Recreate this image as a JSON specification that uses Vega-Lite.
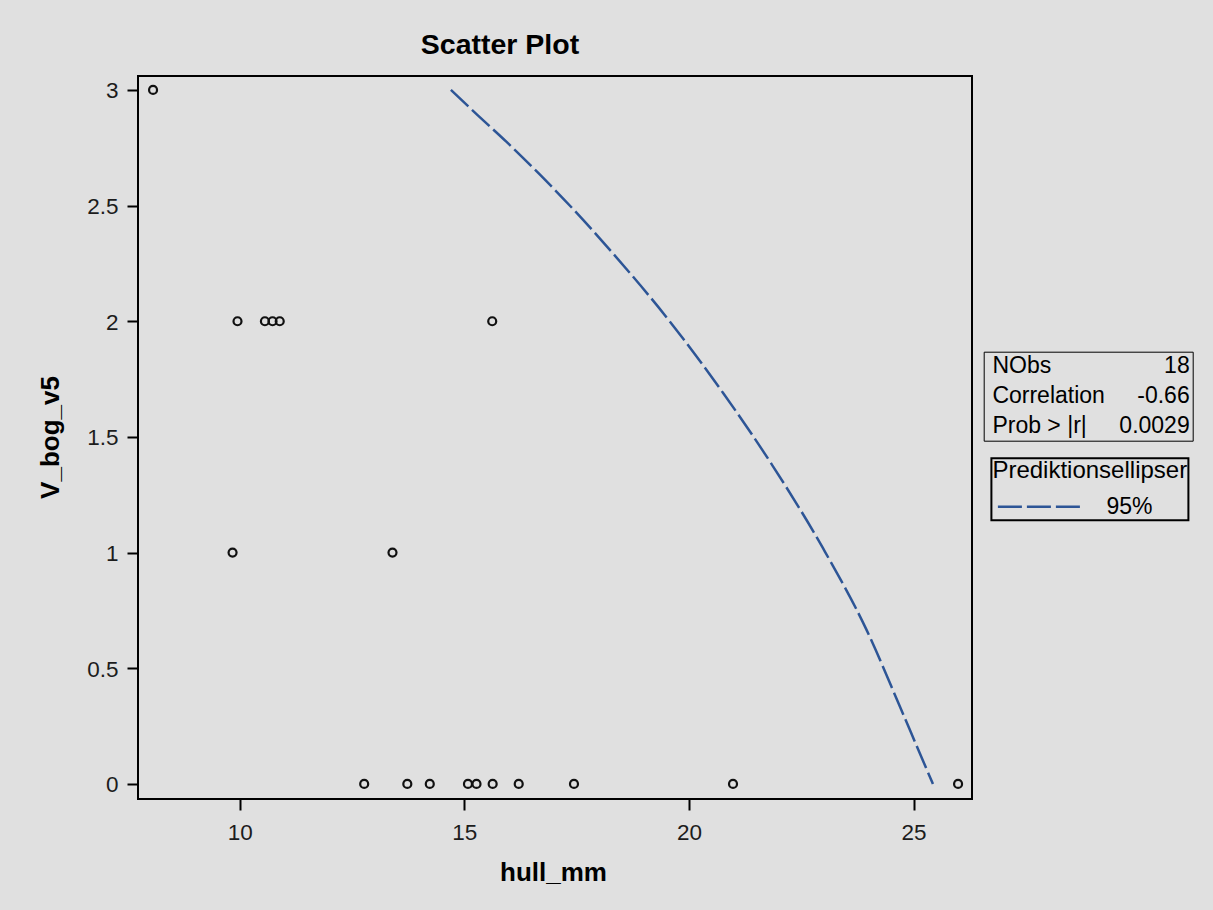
{
  "$schema": "https://vega.github.io/schema/vega-lite/v6.json",
  "width": 834,
  "height": 723,
  "autosize": {"type": "none"},
  "padding": {"left": 138, "top": 76, "right": 241, "bottom": 111},
  "background": "#e0e0e0",
  "title": {
    "text": "Scatter Plot",
    "font": "Liberation Sans",
    "fontSize": 28.5,
    "fontWeight": "bold",
    "color": "black",
    "anchor": "middle",
    "dx": -55,
    "dy": 27,
    "baseline": "alphabetic",
    "offset": 21
  },
  "config": {
    "font": "Liberation Sans",
    "view": {"fill": "white", "stroke": "black", "strokeWidth": 2},
    "axis": {
      "grid": false,
      "domain": false,
      "tickColor": "black",
      "tickWidth": 2,
      "tickSize": 11,
      "labelFont": "Liberation Sans",
      "labelFontSize": 22.5,
      "labelColor": "#1c1c1c",
      "titleFont": "Liberation Sans",
      "titleFontSize": 26,
      "titleFontWeight": "bold",
      "titleColor": "black"
    }
  },
  "datasets": {
    "points": [
      {"hull_mm": 8.07, "V_bog_v5": 3},
      {"hull_mm": 9.95, "V_bog_v5": 2},
      {"hull_mm": 10.56, "V_bog_v5": 2},
      {"hull_mm": 10.73, "V_bog_v5": 2},
      {"hull_mm": 10.89, "V_bog_v5": 2},
      {"hull_mm": 15.62, "V_bog_v5": 2},
      {"hull_mm": 9.84, "V_bog_v5": 1},
      {"hull_mm": 13.4, "V_bog_v5": 1},
      {"hull_mm": 12.77, "V_bog_v5": 0},
      {"hull_mm": 13.73, "V_bog_v5": 0},
      {"hull_mm": 14.23, "V_bog_v5": 0},
      {"hull_mm": 15.08, "V_bog_v5": 0},
      {"hull_mm": 15.27, "V_bog_v5": 0},
      {"hull_mm": 15.63, "V_bog_v5": 0},
      {"hull_mm": 16.21, "V_bog_v5": 0},
      {"hull_mm": 17.44, "V_bog_v5": 0},
      {"hull_mm": 20.98, "V_bog_v5": 0},
      {"hull_mm": 25.99, "V_bog_v5": 0}
    ],
    "ellipse": [
      {"hull_mm": 14.7, "V_bog_v5": 3.0, "level": "95%"},
      {"hull_mm": 15.3, "V_bog_v5": 2.89, "level": "95%"},
      {"hull_mm": 15.94, "V_bog_v5": 2.775, "level": "95%"},
      {"hull_mm": 16.7, "V_bog_v5": 2.63, "level": "95%"},
      {"hull_mm": 17.42, "V_bog_v5": 2.485, "level": "95%"},
      {"hull_mm": 18.3, "V_bog_v5": 2.295, "level": "95%"},
      {"hull_mm": 19.57, "V_bog_v5": 2.0, "level": "95%"},
      {"hull_mm": 20.76, "V_bog_v5": 1.69, "level": "95%"},
      {"hull_mm": 21.87, "V_bog_v5": 1.373, "level": "95%"},
      {"hull_mm": 22.98, "V_bog_v5": 1.02, "level": "95%"},
      {"hull_mm": 23.95, "V_bog_v5": 0.667, "level": "95%"},
      {"hull_mm": 24.69, "V_bog_v5": 0.337, "level": "95%"},
      {"hull_mm": 25.1, "V_bog_v5": 0.15, "level": "95%"},
      {"hull_mm": 25.43, "V_bog_v5": 0.0, "level": "95%"}
    ],
    "stats": [
      {"stat": "NObs", "value": "18"},
      {"stat": "Correlation", "value": "-0.66"},
      {"stat": "Prob > |r|", "value": "0.0029"}
    ]
  },
  "layer": [
    {
      "data": {"name": "points"},
      "mark": {"type": "point", "shape": "circle", "filled": false, "size": 64, "strokeWidth": 2.2, "color": "#111111", "opacity": 1},
      "encoding": {
        "x": {
          "field": "hull_mm",
          "type": "quantitative",
          "scale": {"domain": [7.735, 26.3], "nice": false, "zero": false},
          "axis": {
            "title": "hull_mm",
            "values": [10, 15, 20, 25],
            "labelPadding": 11,
            "labelFlush": false,
            "titleX": 415,
            "titleY": 81,
            "titleBaseline": "alphabetic"
          }
        },
        "y": {
          "field": "V_bog_v5",
          "type": "quantitative",
          "scale": {"domain": [-0.065, 3.06], "nice": false, "zero": false},
          "axis": {
            "title": "V_bog_v5",
            "values": [0, 0.5, 1, 1.5, 2, 2.5, 3],
            "format": "~g",
            "labelPadding": 9,
            "labelBaseline": "alphabetic",
            "labelOffset": 8,
            "labelFlush": false,
            "titleX": -80,
            "titleY": 361,
            "titleAlign": "center",
            "titleBaseline": "alphabetic"
          }
        }
      }
    },
    {
      "data": {"name": "ellipse"},
      "mark": {"type": "line", "color": "#2d5596", "strokeWidth": 2.5, "interpolate": "monotone"},
      "encoding": {
        "x": {"field": "hull_mm", "type": "quantitative"},
        "y": {"field": "V_bog_v5", "type": "quantitative"},
        "strokeDash": {
          "field": "level",
          "type": "nominal",
          "scale": {"domain": ["95%"], "range": [[24, 5]]},
          "legend": {
            "orient": "none",
            "legendX": 853.4,
            "legendY": 382.3,
            "title": "Prediktionsellipser",
            "titleFont": "Liberation Sans",
            "titleFontSize": 24,
            "titleFontWeight": "normal",
            "titleColor": "black",
            "titleLimit": 400,
            "titlePadding": 12,
            "padding": 1,
            "strokeColor": "black",
            "symbolType": "M-1.1,0H7.1",
            "symbolSize": 400,
            "symbolOffset": 5,
            "symbolStrokeWidth": 2.5,
            "symbolStrokeColor": "#2d5596",
            "symbolFillColor": "transparent",
            "labelOffset": 86,
            "labelFont": "Liberation Sans",
            "labelFontSize": 23,
            "labelColor": "black",
            "encode": {"legend": {"update": {"strokeWidth": {"value": 2}}}}
          }
        }
      }
    },
    {
      "data": {"name": "stats"},
      "mark": {"type": "point", "opacity": 0, "filled": true},
      "encoding": {
        "fill": {
          "field": "stat",
          "type": "nominal",
          "scale": {"domain": ["NObs", "Correlation", "Prob > |r|"]},
          "legend": {
            "orient": "none",
            "legendX": 828.4,
            "legendY": 275.7,
            "title": null,
            "padding": 3,
            "rowPadding": 5.7,
            "symbolOpacity": 0,
            "symbolSize": 0,
            "symbolStrokeWidth": 0,
            "labelOffset": 0,
            "labelFont": "Liberation Sans",
            "labelFontSize": 23,
            "labelColor": "black",
            "labelLimit": 300
          }
        },
        "shape": {
          "field": "value",
          "type": "nominal",
          "scale": {"domain": ["18", "-0.66", "0.0029"]},
          "legend": {
            "orient": "none",
            "legendX": 845.7,
            "legendY": 275.7,
            "title": null,
            "padding": 3,
            "rowPadding": 5.7,
            "strokeColor": "black",
            "symbolOpacity": 0,
            "symbolSize": 0,
            "symbolStrokeWidth": 0,
            "labelAlign": "right",
            "labelOffset": 180,
            "labelFont": "Liberation Sans",
            "labelFontSize": 23,
            "labelColor": "black",
            "labelLimit": 300,
            "encode": {"legend": {"update": {"strokeWidth": {"value": 2}}}}
          }
        }
      }
    }
  ]
}
